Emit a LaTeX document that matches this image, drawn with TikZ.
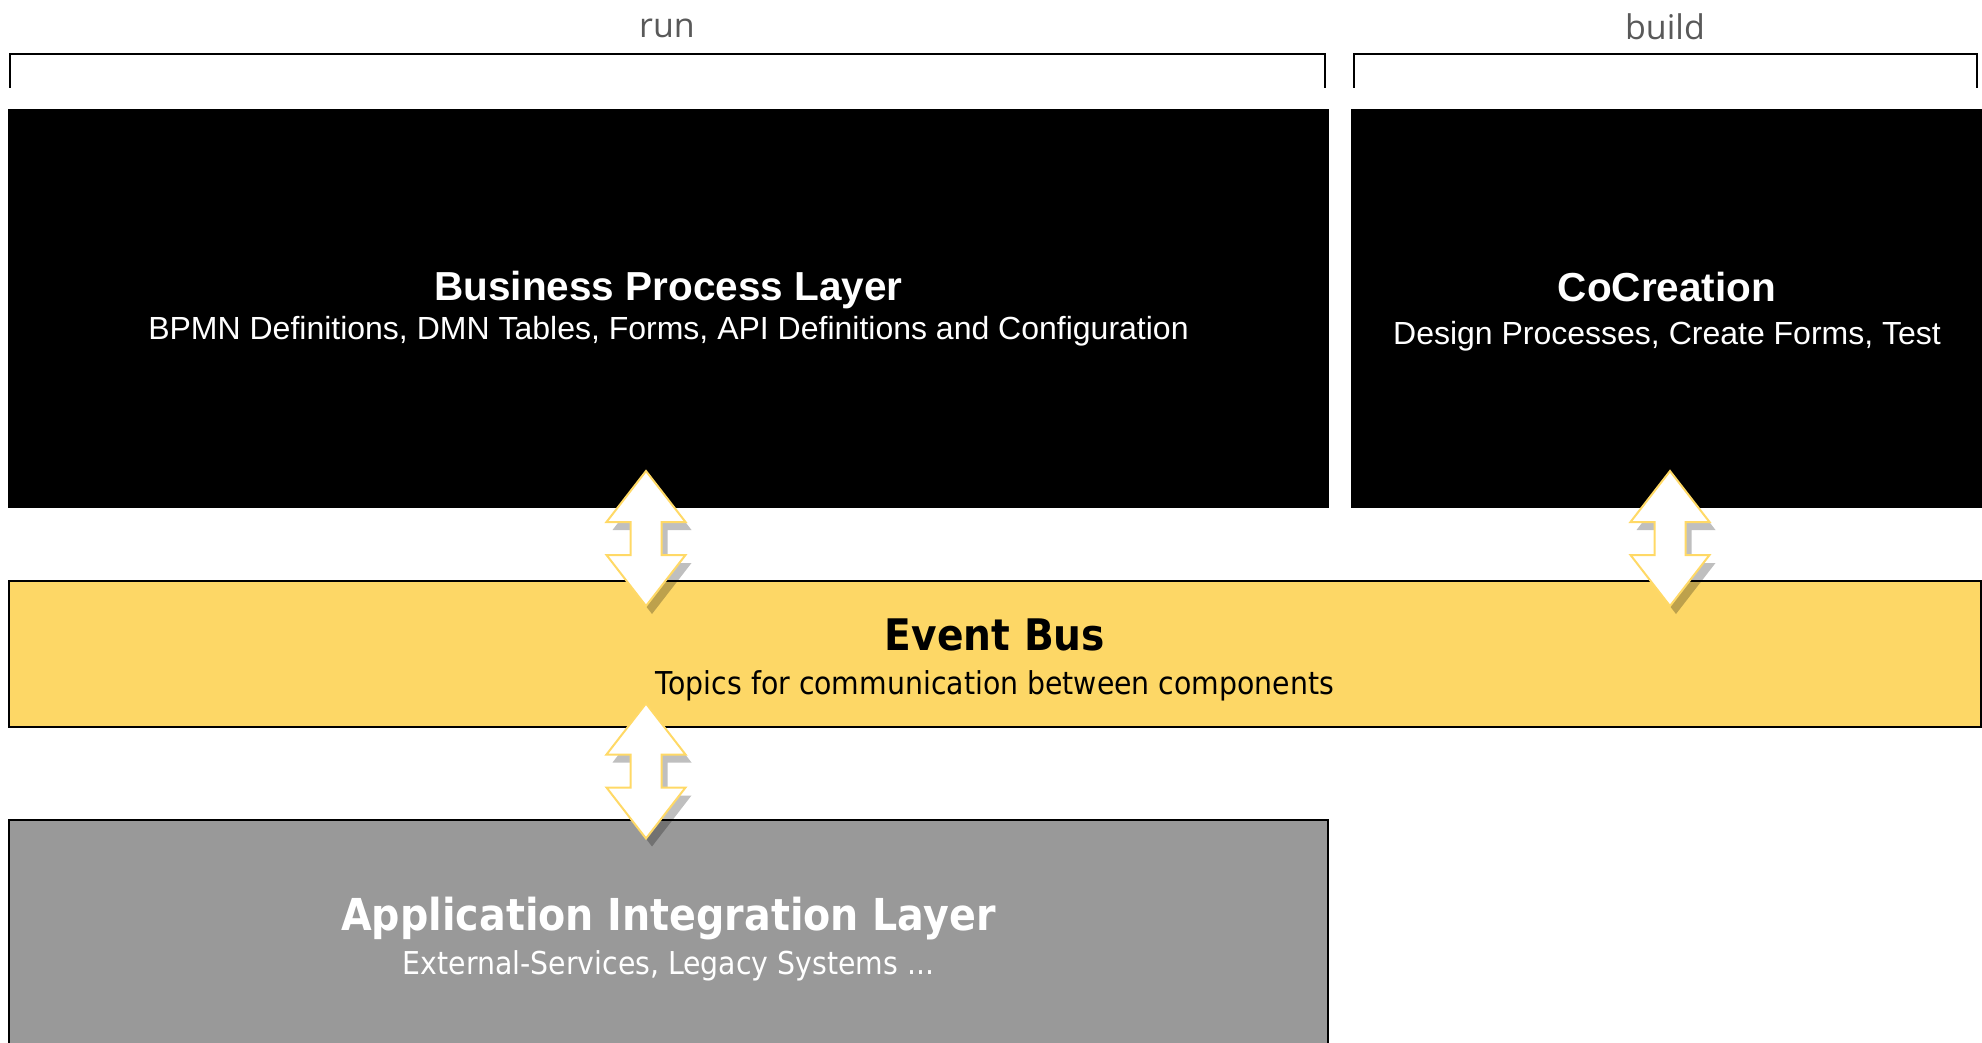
\documentclass[tikz,border=0pt]{standalone}
\usepackage{fontspec}
\setmainfont{Liberation Sans}
\newfontfamily\busfont{DejaVu Sans}[FakeStretch=0.9]
\newfontfamily\labelfont{Open Sans}

\definecolor{busyellow}{HTML}{FDD766}
\definecolor{arrowrim}{HTML}{FFD966}
\definecolor{appgray}{HTML}{999999}
\definecolor{labelgray}{HTML}{595959}

\tikzset{
	layer/.style={draw=black, line width=1.5pt, align=center, inner sep=0pt},
	bracket/.style={draw=black, line width=2pt},
	phase/.style={font=\labelfont\fontsize{34}{40}\selectfont, text=labelgray},
	arrowshape/.style={insert path={(0,-67.5) -- (39.5,-16.5) -- (15.5,-16.5) -- (15.5,16.5) -- (39.5,16.5) -- (0,67.5)
		-- (-39.5,16.5) -- (-15.5,16.5) -- (-15.5,-16.5) -- (-39.5,-16.5) -- cycle}},
	updown/.pic={
		\path[fill=black, fill opacity=0.25, shift={(6,8)}, arrowshape];
		\path[fill=white, draw=arrowrim, line width=2pt, line join=miter, arrowshape];
	}
}

\begin{document}
\begin{tikzpicture}[x=1pt,y=-1pt]
	\useasboundingbox (0,0) rectangle (1982,1043);

	% phases
	\node[phase] (run) at (667,28) {run};
	\node[phase] (build) at (1665,27) {build};
	\draw[bracket] (10,88) |- (1325,54) -- (1325,88);
	\draw[bracket] (1354,88) |- (1977,54) -- (1977,88);

	% layers
	\node[layer, fill=black, text=white, minimum width=1319pt, minimum height=397pt,
		font=\fontsize{32}{39}\selectfont] (bpl) at (668.5,308.5)
		{{\bfseries\fontsize{40.5}{39}\selectfont Business Process Layer}\\BPMN Definitions, DMN Tables, Forms, API Definitions and Configuration};
	\node[layer, fill=black, text=white, minimum width=630pt, minimum height=397pt,
		font=\fontsize{32}{43}\selectfont] (cocreation) at (1667,308.5)
		{\rule{0pt}{36pt}{\bfseries\fontsize{40.5}{43}\selectfont CoCreation}\\Design Processes, Create Forms, Test};
	\node[layer, fill=busyellow, text=black, minimum width=1972pt, minimum height=146pt,
		font=\busfont\fontsize{31.5}{44}\selectfont] (bus) at (995,654)
		{\rule{0pt}{44pt}{\bfseries\fontsize{43.5}{44}\selectfont Event Bus}\\Topics for communication between components};
	\node[layer, fill=appgray, text=white, minimum width=1319pt, minimum height=236pt,
		font=\busfont\fontsize{31.5}{44}\selectfont] (app) at (668.5,938)
		{\rule{0pt}{36pt}{\bfseries\fontsize{44}{44}\selectfont Application Integration Layer}\\External-Services, Legacy Systems ...};

	% arrows between the layers
	\pic (bplbus) at (646,538.5) {updown};
	\pic (cobus) at (1670,538.5) {updown};
	\pic (busapp) at (646,771) {updown};
\end{tikzpicture}
\end{document}
